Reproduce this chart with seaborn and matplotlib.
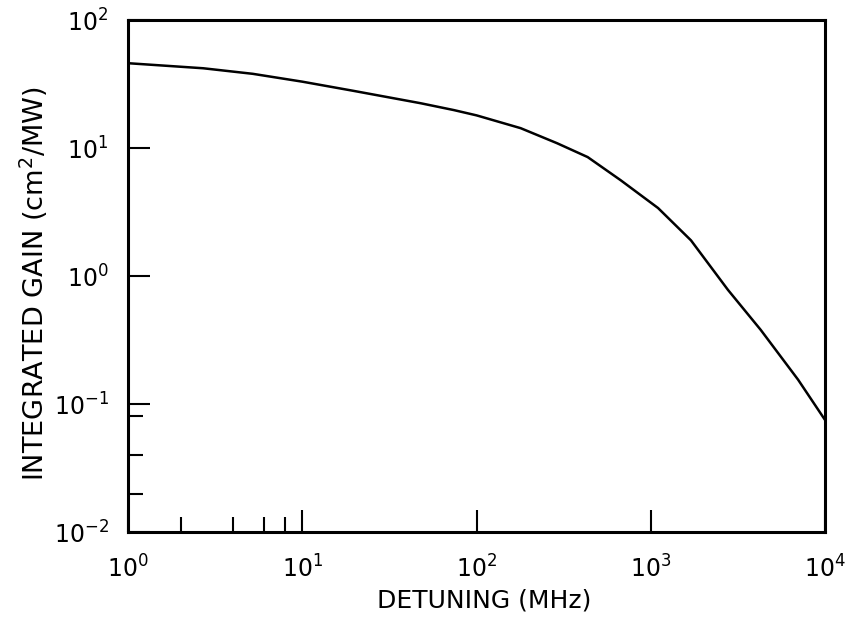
import numpy as np
import pandas as pd
import matplotlib
matplotlib.use("Agg")
import matplotlib.pyplot as plt
import seaborn as sns
from matplotlib.ticker import FixedLocator, LogFormatterSciNotation, NullFormatter

detuning_mhz = [1, 2.7, 5.2, 10, 19.6, 47.7, 74, 100, 179, 290, 434, 672, 1100, 1700, 2770, 4270, 7000, 10000]
integrated_gain = [46, 42, 38, 33, 28, 22.4, 19.8, 18, 14.3, 10.9, 8.5, 5.6, 3.4, 1.9, 0.78, 0.38, 0.155, 0.075]

x_major = [1, 10, 100, 1000, 10000]
x_minor = [2, 4, 6, 8]
y_major = [0.01, 0.1, 1, 10, 100]
y_minor = [0.02, 0.04, 0.08]

sns.set_style("ticks")
plt.rcParams['font.family'] = ['DejaVu Sans']
plt.rcParams['mathtext.default'] = 'regular'
plt.rcParams['text.color'] = 'black'
plt.rcParams['axes.labelcolor'] = 'black'
plt.rcParams['xtick.color'] = 'black'
plt.rcParams['ytick.color'] = 'black'

df = pd.DataFrame({"detuning": detuning_mhz, "gain": integrated_gain})

fig = plt.figure(figsize=(8.48, 6.26), dpi=100)
ax = fig.add_axes([0.151, 0.150, 0.822, 0.818])
sns.lineplot(data=df, x="detuning", y="gain", ax=ax, color="black", linewidth=1.8)
ax.set_xscale("log")
ax.set_yscale("log")
ax.set_xlim(1, 1e4)
ax.set_ylim(1e-2, 1e2)

ax.xaxis.set_major_locator(FixedLocator(x_major))
ax.xaxis.set_minor_locator(FixedLocator(x_minor))
ax.yaxis.set_major_locator(FixedLocator(y_major))
ax.yaxis.set_minor_locator(FixedLocator(y_minor))
ax.xaxis.set_major_formatter(LogFormatterSciNotation())
ax.yaxis.set_major_formatter(LogFormatterSciNotation())
ax.xaxis.set_minor_formatter(NullFormatter())
ax.yaxis.set_minor_formatter(NullFormatter())

ax.tick_params(axis="both", which="major", direction="in", length=16, width=1.5,
               labelsize=17, colors="black")
ax.tick_params(axis="x", which="major", pad=17)
ax.tick_params(axis="y", which="major", pad=14)
ax.tick_params(axis="both", which="minor", direction="in", length=11, width=1.5)

for s in ax.spines.values():
    s.set_linewidth(2.2)
    s.set_color("black")

ax.set_xlabel("DETUNING (MHz)", fontsize=18)
ax.set_ylabel("INTEGRATED GAIN (cm$^{2}$/MW)", fontsize=19.5)
ax.xaxis.set_label_coords(0.511, -0.11)
ax.yaxis.set_label_coords(-0.112, 0.486)

fig.savefig("out.png", dpi=100)
